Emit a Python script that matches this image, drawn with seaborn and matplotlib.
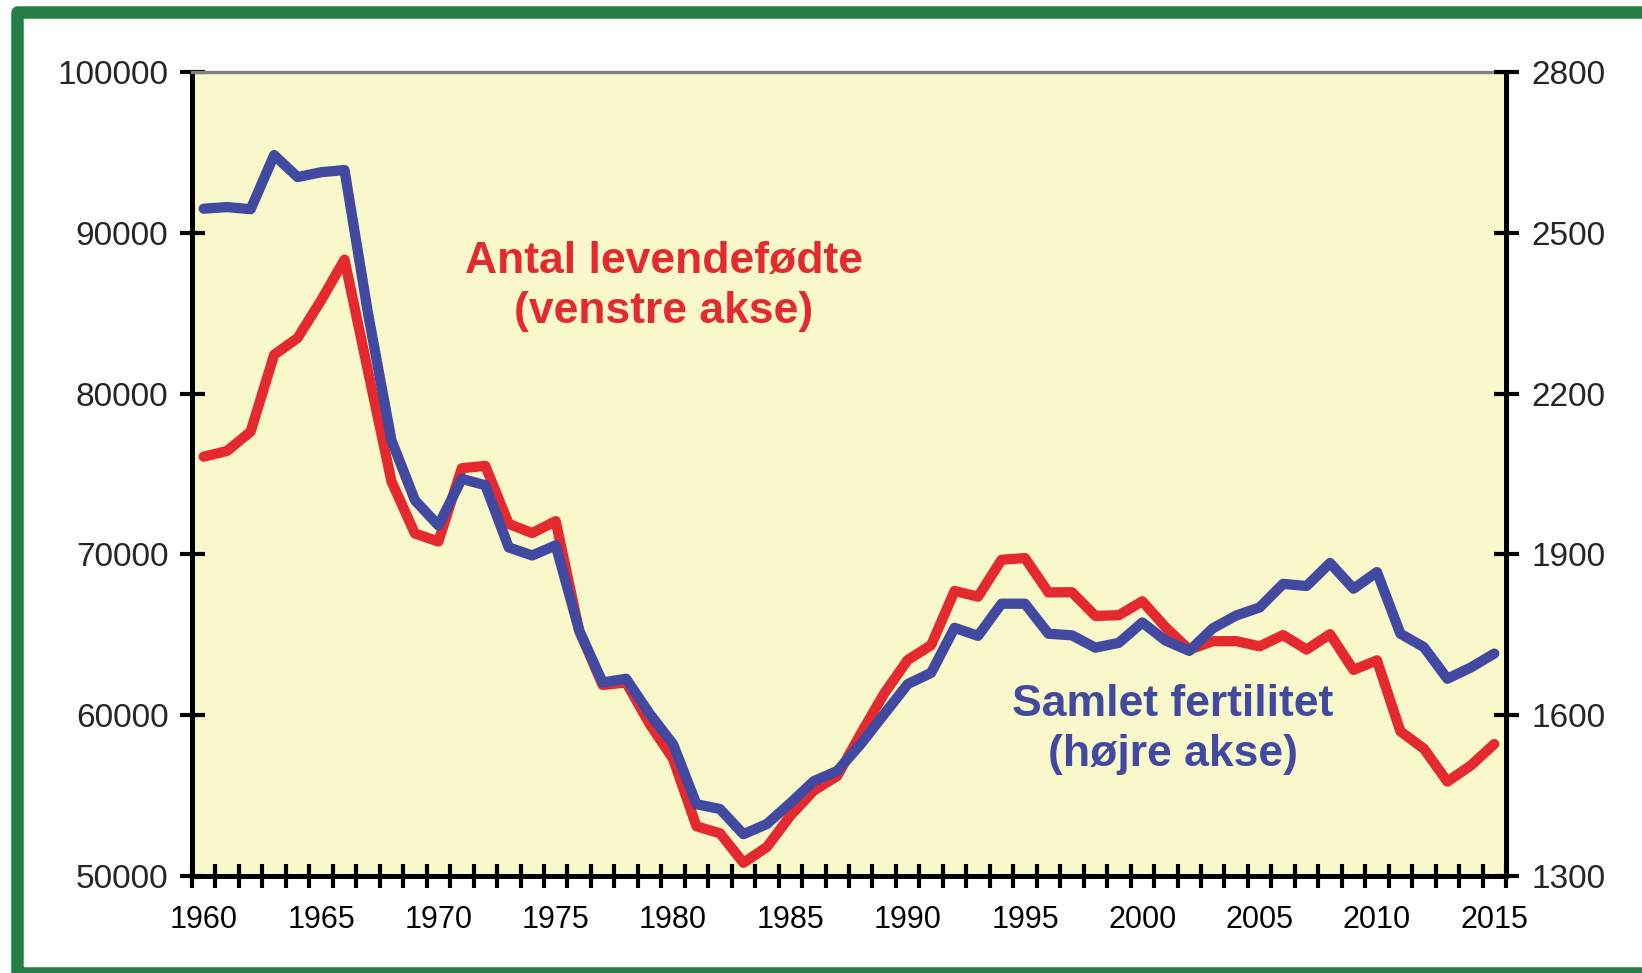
import matplotlib
import matplotlib.pyplot as plt
import numpy as np
import seaborn as sns
from matplotlib.patches import Rectangle

matplotlib.use("Agg")

# Data
years = list(range(1960, 2016))
births = [76077, 76437, 77639, 82413, 83456, 85796, 88332, 81410, 74543, 71298,
          70802, 75359, 75505, 71895, 71327, 72071, 65267, 61878, 62036, 59464,
          57293, 53089, 52658, 50822, 51800, 53749, 55312, 56221, 58844, 61351,
          63433, 64358, 67726, 67369, 69666, 69771, 67638, 67648, 66174, 66220,
          67084, 65458, 64075, 64599, 64609, 64282, 64984, 64082, 65038, 62818,
          63411, 58998, 57916, 55873, 56870, 58205]
fertility = [2545, 2548, 2544, 2645, 2604, 2613, 2617, 2350, 2113, 2001,
             1954, 2041, 2029, 1913, 1898, 1917, 1758, 1661, 1668, 1603,
             1546, 1434, 1425, 1378, 1397, 1436, 1477, 1496, 1546, 1602,
             1658, 1679, 1763, 1748, 1808, 1808, 1752, 1749, 1726, 1735,
             1773, 1739, 1720, 1762, 1786, 1801, 1845, 1841, 1884, 1836,
             1867, 1752, 1727, 1668, 1689, 1715]
left_ticks = [50000, 60000, 70000, 80000, 90000, 100000]
right_ticks = [1300, 1600, 1900, 2200, 2500, 2800]
year_labels = list(range(1960, 2016, 5))

RED = "#E52A2F"
BLUE = "#4149A0"
BG = "#F8F8CA"
GREEN = "#257E43"

sns.set_theme(style="white")
plt.rcParams["font.family"] = ["Liberation Sans", "DejaVu Sans"]

fig = plt.figure(figsize=(16.42, 9.73), dpi=100)
fig.patch.set_facecolor("white")

# green frame around the chart (right side runs off the picture)
frame = Rectangle((16.5 / 1642, 0.0), 1.1, 1 - 11.5 / 973,
                  transform=fig.transFigure, fill=False, edgecolor=GREEN,
                  linewidth=9, joinstyle="round", zorder=0)
fig.patches.append(frame)

ax1 = fig.add_axes([192 / 1642, 97 / 973, 1314 / 1642, 804 / 973])
ax1.set_facecolor(BG)
ax2 = ax1.twinx()

sns.lineplot(x=years, y=births, ax=ax1, color=RED, linewidth=7.4,
             solid_capstyle="round", solid_joinstyle="round")
sns.lineplot(x=years, y=fertility, ax=ax2, color=BLUE, linewidth=7.4,
             solid_capstyle="round", solid_joinstyle="round")

ax1.set_xlim(1959.5, 2015.5)
ax1.set_ylim(50000, 100000)
ax2.set_ylim(1300, 2800)

ax1.set_yticks(left_ticks)
ax1.set_yticklabels([str(v) for v in left_ticks])
ax2.set_yticks(right_ticks)
ax2.set_yticklabels([str(v) for v in right_ticks])

ax1.set_xticks(year_labels)
ax1.set_xticklabels([str(y) for y in year_labels])
ax1.set_xticks(np.arange(1959.5, 2016, 1), minor=True)

ax1.tick_params(axis="x", which="major", length=0, labelsize=22, pad=21,
                labelcolor="black")
ax1.tick_params(axis="x", which="minor", direction="inout", length=17,
                width=3, color="black", bottom=True)
ax1.tick_params(axis="y", direction="inout", length=18, width=3,
                color="black", labelsize=24, pad=8, left=True)
ax2.tick_params(axis="y", direction="inout", length=18, width=3,
                color="black", labelsize=24, pad=9, right=True)

for ax in (ax1, ax2):
    ax.set_xlabel("")
    ax.set_ylabel("")
    ax.grid(False)

ax1.spines["left"].set_linewidth(3.6)
ax1.spines["left"].set_color("black")
ax1.spines["bottom"].set_linewidth(3.6)
ax1.spines["bottom"].set_color("black")
ax1.spines["top"].set_linewidth(2.4)
ax1.spines["top"].set_color("#808080")
ax1.spines["right"].set_visible(False)
ax2.spines["left"].set_visible(False)
ax2.spines["bottom"].set_visible(False)
ax2.spines["top"].set_visible(False)
ax2.spines["right"].set_linewidth(3.6)
ax2.spines["right"].set_color("black")

ax1.text(1979.6, 86650, "Antal levendefødte\n(venstre akse)", color=RED,
         fontsize=32, fontweight="bold", ha="center", va="center",
         linespacing=1.28)
ax1.text(2001.3, 59130, "Samlet fertilitet\n(højre akse)", color=BLUE,
         fontsize=32, fontweight="bold", ha="center", va="center",
         linespacing=1.28, zorder=5)

fig.savefig("out.png", dpi=100)
plt.close(fig)
